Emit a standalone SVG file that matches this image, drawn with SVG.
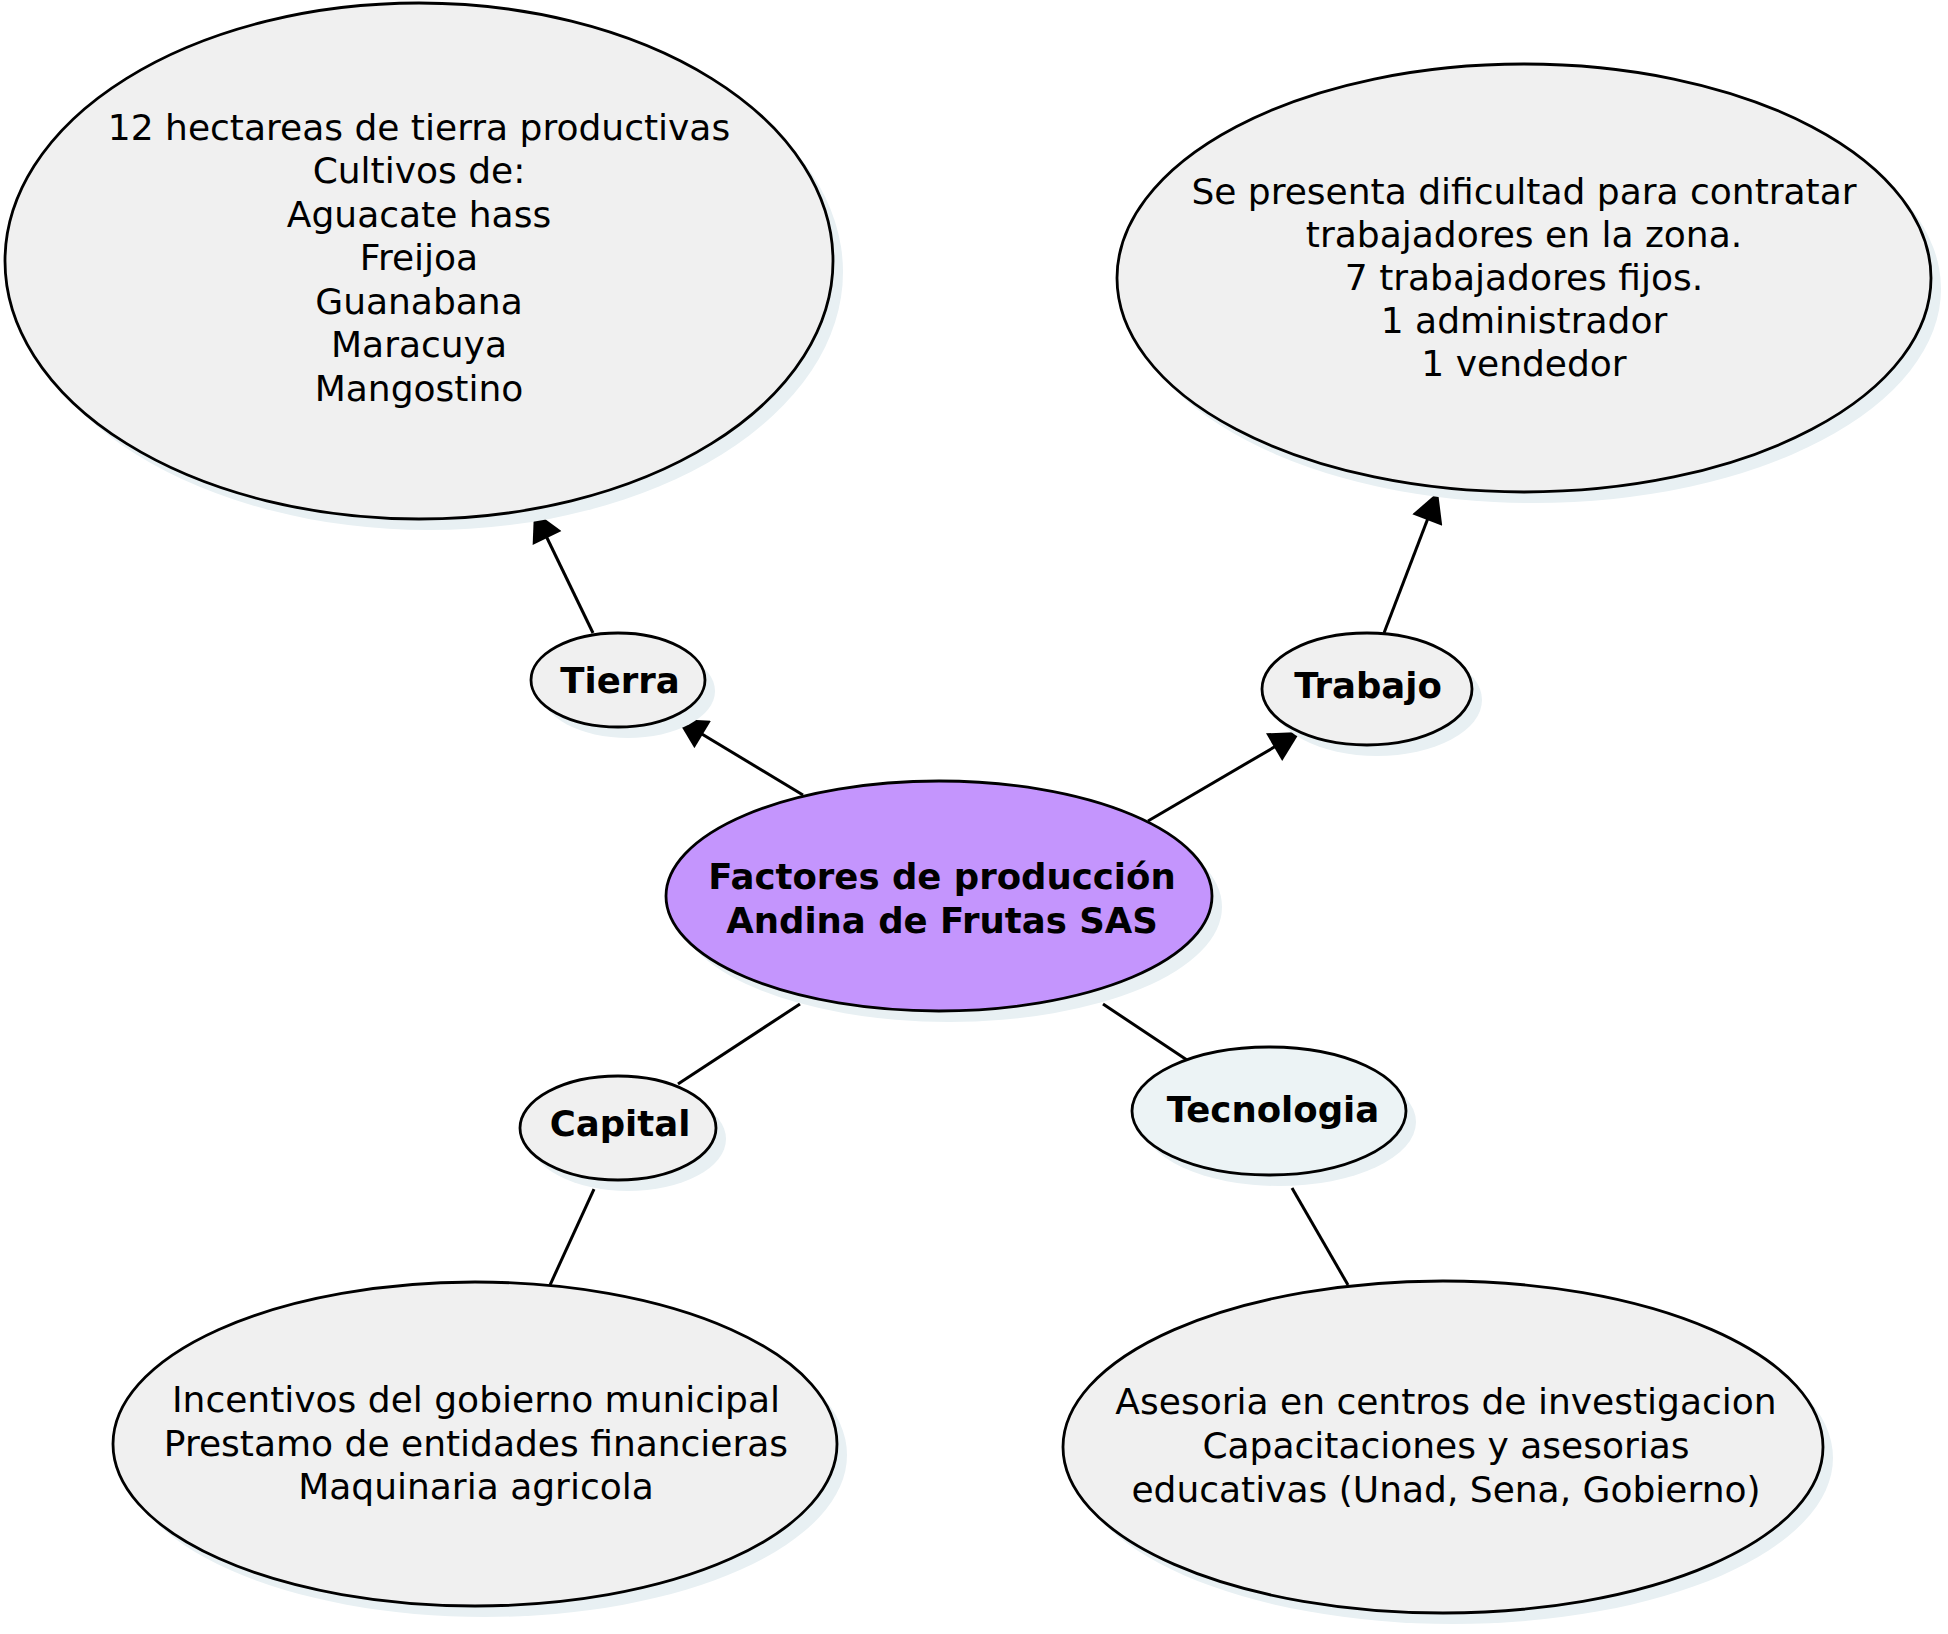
<svg xmlns="http://www.w3.org/2000/svg" width="1948" height="1634" viewBox="0 0 1948 1634">
<style>
.sh{fill:#e8f0f3}
.nd{fill:#f0f0f0;stroke:#000;stroke-width:2.8}
.t{font-family:"DejaVu Sans",sans-serif;font-size:36px;text-anchor:middle;fill:#000}
.b{font-family:"DejaVu Sans",sans-serif;font-size:35.5px;font-weight:bold;text-anchor:middle;fill:#000}
.c{stroke:#000;stroke-width:3;fill:none}
</style>
<defs>
<marker id="ah" markerUnits="userSpaceOnUse" markerWidth="32" markerHeight="32" viewBox="0 0 30 32" refX="30" refY="16" orient="auto">
<path d="M0,0 L30,16 L0,32 z" fill="#000"/>
</marker>
</defs>
<rect width="1948" height="1634" fill="#fff"/>
<g id="connectors">
<line class="c" x1="803" y1="795" x2="677" y2="719" marker-end="url(#ah)"/>
<line class="c" x1="593" y1="633" x2="534" y2="511" marker-end="url(#ah)"/>
<line class="c" x1="1148" y1="821" x2="1300" y2="732" marker-end="url(#ah)"/>
<line class="c" x1="1384" y1="633" x2="1438" y2="492" marker-end="url(#ah)"/>
<line class="c" x1="800" y1="1004" x2="678" y2="1084"/>
<line class="c" x1="594" y1="1189" x2="550" y2="1285"/>
<line class="c" x1="1103" y1="1004" x2="1187" y2="1060"/>
<line class="c" x1="1292" y1="1188" x2="1348" y2="1285"/>
</g>
<g id="tierra-detalle">
<ellipse class="sh" cx="429" cy="272" rx="414" ry="258"/>
<ellipse class="nd" cx="419" cy="261" rx="414" ry="258"/>
<text class="t" x="419" y="139.5">12 hectareas de tierra productivas</text>
<text class="t" x="419" y="183">Cultivos de:</text>
<text class="t" x="419" y="226.5">Aguacate hass</text>
<text class="t" x="419" y="270">Freijoa</text>
<text class="t" x="419" y="313.5">Guanabana</text>
<text class="t" x="419" y="357">Maracuya</text>
<text class="t" x="419" y="400.5">Mangostino</text>
</g>
<g id="trabajo-detalle">
<ellipse class="sh" cx="1534" cy="289" rx="407" ry="214"/>
<ellipse class="nd" cx="1524" cy="278" rx="407" ry="214"/>
<text class="t" x="1524" y="204">Se presenta dificultad para contratar</text>
<text class="t" x="1524" y="247">trabajadores en la zona.</text>
<text class="t" x="1524" y="290">7 trabajadores fijos.</text>
<text class="t" x="1524" y="333">1 administrador</text>
<text class="t" x="1524" y="376">1 vendedor</text>
</g>
<g id="tierra">
<ellipse class="sh" cx="628" cy="691" rx="87" ry="47"/>
<ellipse class="nd" cx="618" cy="680" rx="87" ry="47"/>
<text class="b" x="620" y="693">Tierra</text>
</g>
<g id="trabajo">
<ellipse class="sh" cx="1377" cy="700" rx="105" ry="56"/>
<ellipse class="nd" cx="1367" cy="689" rx="105" ry="56"/>
<text class="b" x="1368" y="698">Trabajo</text>
</g>
<g id="central">
<ellipse class="sh" cx="949" cy="907" rx="273" ry="115"/>
<ellipse class="nd" cx="939" cy="896" rx="273" ry="115" style="fill:#c495fd"/>
<text class="b" x="942" y="889">Factores de producción</text>
<text class="b" x="942" y="933">Andina de Frutas SAS</text>
</g>
<g id="capital">
<ellipse class="sh" cx="628" cy="1139" rx="98" ry="52"/>
<ellipse class="nd" cx="618" cy="1128" rx="98" ry="52"/>
<text class="b" x="620" y="1136">Capital</text>
</g>
<g id="tecnologia">
<ellipse class="sh" cx="1279" cy="1122" rx="137" ry="64"/>
<ellipse class="nd" cx="1269" cy="1111" rx="137" ry="64" style="fill:#ecf3f5"/>
<text class="b" x="1273" y="1122">Tecnologia</text>
</g>
<g id="capital-detalle">
<ellipse class="sh" cx="485" cy="1455" rx="362" ry="162"/>
<ellipse class="nd" cx="475" cy="1444" rx="362" ry="162"/>
<text class="t" x="476" y="1412">Incentivos del gobierno municipal</text>
<text class="t" x="476" y="1456">Prestamo de entidades financieras</text>
<text class="t" x="476" y="1499">Maquinaria agricola</text>
</g>
<g id="tecnologia-detalle">
<ellipse class="sh" cx="1453" cy="1458" rx="380" ry="166"/>
<ellipse class="nd" cx="1443" cy="1447" rx="380" ry="166"/>
<text class="t" x="1446" y="1414">Asesoria en centros de investigacion</text>
<text class="t" x="1446" y="1458">Capacitaciones y asesorias</text>
<text class="t" x="1446" y="1502">educativas (Unad, Sena, Gobierno)</text>
</g>
</svg>
